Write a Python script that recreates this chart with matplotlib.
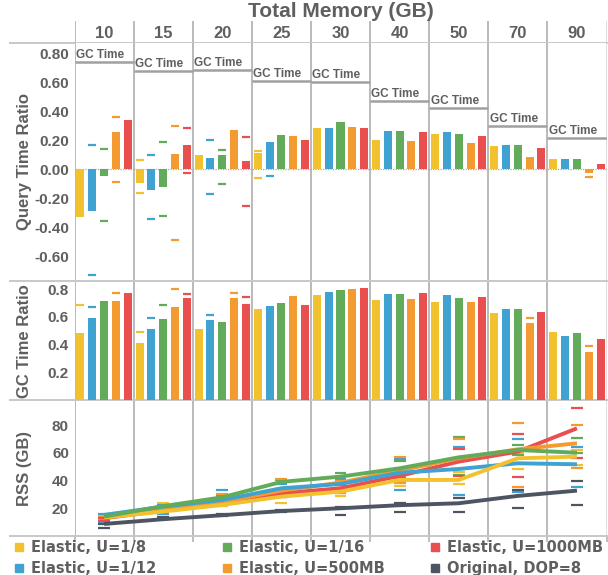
import matplotlib
matplotlib.use("Agg")
import matplotlib.pyplot as plt
import numpy as np
from matplotlib.lines import Line2D

nan = np.nan

# columns (total memory, GB) and series
memory = ["10", "15", "20", "25", "30", "40", "50", "70", "90"]
series = ["Elastic, U=1/8", "Elastic, U=1/12", "Elastic, U=1/16",
          "Elastic, U=500MB", "Elastic, U=1000MB", "Original, DOP=8"]
colors = ["#F2C12E", "#3FA2D0", "#62AB5A", "#F39A31", "#E94F4F", "#4D5562"]

# query time ratio (bars) + min/max dashes
query_ratio = [
    [-0.327, -0.092, 0.099, 0.112, 0.285, 0.202, 0.243, 0.161, 0.071],
    [-0.285, -0.143, 0.078, 0.188, 0.285, 0.264, 0.257, 0.168, 0.071],
    [-0.044, -0.120, 0.099, 0.237, 0.326, 0.264, 0.243, 0.168, 0.071],
    [0.257, 0.105, 0.271, 0.230, 0.292, 0.195, 0.181, 0.085, -0.023],
    [0.340, 0.168, 0.057, 0.202, 0.285, 0.257, 0.230, 0.147, 0.037],
]
query_hi = [
    [nan, 0.064, nan, 0.128, nan, nan, nan, nan, nan],
    [0.170, 0.100, 0.204, nan, nan, nan, nan, nan, nan],
    [0.140, 0.190, 0.135, nan, nan, nan, nan, nan, nan],
    [0.363, 0.300, nan, nan, nan, nan, nan, nan, nan],
    [nan, 0.287, 0.225, nan, nan, nan, nan, nan, nan],
]
query_lo = [
    [nan, -0.161, nan, -0.060, nan, nan, nan, nan, nan],
    [-0.730, -0.343, -0.168, -0.046, nan, nan, nan, nan, nan],
    [-0.354, -0.322, -0.099, nan, nan, nan, nan, nan, nan],
    [-0.088, -0.490, nan, nan, nan, nan, nan, nan, -0.050],
    [nan, -0.023, -0.253, nan, nan, nan, nan, nan, nan],
]
gc_time_ref = [0.742, 0.676, 0.687, 0.609, 0.600, 0.471, 0.420, 0.300, 0.218]

# GC time ratio
gc_ratio = [
    [0.482, 0.410, 0.511, 0.656, 0.757, 0.721, 0.707, 0.627, 0.490],
    [0.591, 0.511, 0.576, 0.677, 0.779, 0.764, 0.757, 0.656, 0.460],
    [0.714, 0.583, 0.562, 0.699, 0.793, 0.764, 0.735, 0.656, 0.482],
    [0.714, 0.670, 0.735, 0.750, 0.800, 0.728, 0.707, 0.555, 0.345],
    [0.772, 0.735, 0.692, 0.685, 0.808, 0.772, 0.743, 0.634, 0.439],
]
gc_hi = [
    [0.687, 0.490, nan, nan, nan, nan, nan, nan, nan],
    [0.670, 0.593, 0.612, nan, nan, nan, nan, nan, nan],
    [nan, 0.687, nan, nan, nan, nan, nan, nan, nan],
    [0.774, 0.803, 0.774, nan, nan, nan, nan, 0.591, 0.388],
    [nan, 0.767, 0.743, nan, nan, nan, nan, nan, nan],
]

# RSS (GB) lines + min/max dashes (6 series incl. original)
rss = [
    [13.3, 17.6, 22.4, 28.4, 32.0, 40.4, 40.4, 56.0, 57.2],
    [15.2, 21.2, 26.0, 34.4, 37.5, 45.6, 48.3, 52.4, 51.7],
    [14.0, 21.5, 27.9, 39.0, 42.8, 48.8, 56.7, 62.0, 60.0],
    [13.5, 19.0, 24.5, 32.7, 38.5, 47.1, 56.0, 62.5, 66.8],
    [12.8, 18.3, 23.1, 30.8, 34.4, 43.3, 53.6, 60.8, 77.6],
    [8.7, 12.1, 15.0, 18.0, 20.0, 22.2, 23.6, 28.9, 32.7],
]
rss_hi = [
    [15.0, 24.0, 23.5, 29.0, 31.0, 43.3, 46.4, 60.0, 62.0],
    [16.0, 22.4, 33.4, 37.5, 41.3, 55.5, 64.1, 69.9, 64.1],
    [12.5, 21.2, 29.0, 40.4, 45.6, 54.3, 71.3, 65.8, 70.6],
    [14.0, 20.0, 30.0, 41.3, 40.0, 56.7, 70.1, 81.4, 80.0],
    [13.0, 18.5, 25.0, 30.8, 36.8, 45.0, 62.9, 73.5, 92.4],
    [9.0, 14.0, 16.0, 18.5, 21.2, 23.8, 27.6, 33.2, 39.7],
]
rss_lo = [
    [12.0, 17.0, 21.7, 24.0, 29.1, 36.3, 37.7, 48.3, 51.4],
    [10.4, 15.9, 22.9, 33.0, 32.7, 33.2, 29.6, 31.7, 35.3],
    [11.5, 19.5, 27.0, 33.7, 38.0, 39.2, 44.2, 58.4, 60.0],
    [12.0, 18.0, 24.0, 30.0, 31.3, 38.0, 55.0, 35.3, 49.0],
    [11.0, 17.0, 23.0, 27.9, 34.0, 42.0, 43.0, 42.5, 56.2],
    [6.0, 12.5, 14.5, 17.0, 15.2, 17.4, 17.4, 20.2, 22.4],
]

plt.rcParams["font.family"] = ["Liberation Sans", "DejaVu Sans"]
plt.rcParams["font.weight"] = "bold"
plt.rcParams["axes.labelweight"] = "bold"
text_color = "#5f5f5f"
sep_color = "#b4b4b4"

W, H = 608, 575
fig = plt.figure(figsize=(W / 100, H / 100), dpi=100)


def px_axes(top, bottom, left=74.5, right=606.5):
    return fig.add_axes([left / W, 1 - bottom / H, (right - left) / W, (bottom - top) / H])


ax_head = px_axes(21, 43)
ax_q = px_axes(43, 281)
ax_g = px_axes(282, 400)
ax_r = px_axes(401, 536)

n_col = len(memory)
slots = 5
xmax = n_col * slots
centers = np.arange(n_col) * slots + slots / 2
bar_w = 0.68

for ax in [ax_head, ax_q, ax_g, ax_r]:
    ax.set_xlim(0, xmax)
    for s in ax.spines.values():
        s.set_visible(False)
    for k in range(n_col + 1):
        ax.axvline(k * slots, color=sep_color if k < n_col else "#dddddd", lw=1.3, zorder=1)
    ax.tick_params(axis="y", length=0, pad=4, labelsize=11, labelcolor=text_color)
    ax.tick_params(axis="x", length=0, labelbottom=False)
    # panel bottom rule, extends to the left over the labels
    ax.plot([-0.121, 1], [0, 0], transform=ax.transAxes, color="#c8c8c8", lw=1.4, clip_on=False)

# header
ax_head.set_ylim(0, 1)
ax_head.set_yticks([])
for c, m in zip(centers, memory):
    ax_head.text(c, 0.45, m, ha="center", va="center", fontsize=12, color=text_color)
ax_head.text(0.5, 1.42, "Total Memory (GB)", transform=ax_head.transAxes,
             ha="center", va="center", fontsize=15, color=text_color)

# query time ratio
for j in range(5):
    x = np.arange(n_col) * slots + j + 0.5
    ax_q.bar(x, query_ratio[j], width=bar_w, color=colors[j], zorder=2)
    ax_q.hlines(query_hi[j], x - bar_w / 2, x + bar_w / 2, color=colors[j], lw=1.6, zorder=3)
    ax_q.hlines(query_lo[j], x - bar_w / 2, x + bar_w / 2, color=colors[j], lw=1.6, zorder=3)
for i, g in enumerate(gc_time_ref):
    ax_q.hlines(g, i * slots, (i + 1) * slots, color="#a0a0a0", lw=1.8, zorder=3)
    ax_q.text(i * slots + 0.12, g + 0.028, "GC Time", fontsize=8.5, color=text_color,
              va="baseline", ha="left")
ax_q.axhline(0, color="#aaaaaa", lw=0.9, ls=(0, (1, 1)), zorder=1)
ax_q.set_ylim(-0.770, 0.871)
ax_q.set_yticks([0.8, 0.6, 0.4, 0.2, 0.0, -0.2, -0.4, -0.6])
ax_q.set_yticklabels([f"{v:.2f}" for v in ax_q.get_yticks()])
ax_q.set_ylabel("Query Time Ratio", fontsize=12, color=text_color)
ax_q.yaxis.set_label_coords(-0.080, 0.5)

# GC time ratio
for j in range(5):
    x = np.arange(n_col) * slots + j + 0.5
    ax_g.bar(x, gc_ratio[j], width=bar_w, color=colors[j], zorder=2)
    ax_g.hlines(gc_hi[j], x - bar_w / 2, x + bar_w / 2, color=colors[j], lw=1.6, zorder=3)
ax_g.set_ylim(0, 0.851)
ax_g.set_yticks([0.8, 0.6, 0.4, 0.2])
ax_g.set_yticklabels([f"{v:.1f}" for v in ax_g.get_yticks()])
ax_g.set_ylabel("GC Time Ratio", fontsize=12, color=text_color)
ax_g.yaxis.set_label_coords(-0.080, 0.5)

# RSS
for j in range(6):
    ax_r.hlines(rss_hi[j], centers - 0.5, centers + 0.5, color=colors[j], lw=1.6, zorder=3)
    ax_r.hlines(rss_lo[j], centers - 0.5, centers + 0.5, color=colors[j], lw=1.6, zorder=3)
for j in [5, 4, 3, 1, 0, 2]:
    ax_r.plot(centers, rss[j], color=colors[j], lw=2.8, zorder=4, solid_capstyle="butt")
ax_r.set_ylim(0, 97.3)
ax_r.set_yticks([80, 60, 40, 20])
ax_r.set_xticks(np.arange(n_col + 1) * slots)
ax_r.tick_params(axis="x", length=4, width=1.2, color=sep_color)
ax_r.set_ylabel("RSS (GB)", fontsize=12, color=text_color)
ax_r.yaxis.set_label_coords(-0.080, 0.5)

# legend: three columns of two entries
handles = [Line2D([], [], marker="s", ls="", color=c, markersize=6) for c in colors]
for k, xpos in zip(range(3), [0.0217, 0.3638, 0.7059]):
    idx = [2 * k, 2 * k + 1]
    fig.legend([handles[i] for i in idx], [series[i] for i in idx], loc="upper left",
               bbox_to_anchor=(xpos, 0.061), frameon=False, handlelength=0.8,
               handletextpad=0.45, borderpad=0, borderaxespad=0, labelspacing=0.42,
               prop={"family": "DejaVu Sans", "weight": "bold", "size": 10.5},
               labelcolor=text_color)

fig.savefig("out.png", dpi=100)
